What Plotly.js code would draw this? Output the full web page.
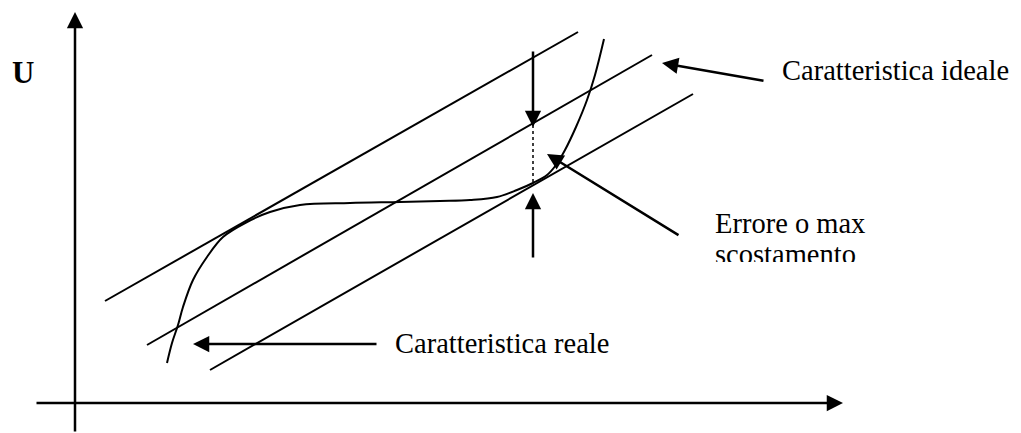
<!DOCTYPE html>
<html>
<head>
<meta charset="utf-8">
<script src="https://cdn.plot.ly/plotly-3.0.1.min.js"></script>
<style>html,body{margin:0;padding:0;background:#fff;}#chart{width:1021px;height:433px;}</style>
</head>
<body>
<div id="chart"></div>
<script>
// Real (S-shaped) characteristic, pixel-space diagram coordinates
const realX = [167,172,178,183,193,207,223,247,270,300,350,400,440,470,497,517,533,547,556,565,576,587,595,604];
const realY = [363,343,325,307,280,257,237,222,212,205,203,202,201,200,197,190,183,175,165,150,127,100,75,39];

// Three parallel ideal lines (upper bound, ideal, lower bound)
const bandX0 = [105,147,210];
const bandY0 = [301,345,370];
const bandX1 = [578,652,693];
const bandY1 = [32,55,94];

// Error segment (dotted)
const errX = [533,533];
const errY = [125,183];

// Axes (tail -> tip)
const axesTail = [[75,433],[35,403]];
const axesTip  = [[75,12],[843,403]];

// Pointer arrows (tail -> tip)
const ptrTail = [[533,50],[533,259],[765,81],[680,236],[378,344]];
const ptrTip  = [[533,127],[533,193],[662,63],[547,154],[193,344]];

// Labels
const labelU = 'U';
const labelIdeal = 'Caratteristica ideale';
const labelErr1 = 'Errore o max';
const labelErr2 = 'scostamento';
const labelReal = 'Caratteristica reale';
const labelTop = 'g';

const FONT = 'Liberation Serif';

const traces = [];
for (let i = 0; i < bandX0.length; i++) {
  traces.push({x:[bandX0[i],bandX1[i]], y:[bandY0[i],bandY1[i]], mode:'lines',
    line:{color:'#000', width:2}, hoverinfo:'skip', xaxis:'x', yaxis:'y'});
}
traces.push({x:realX, y:realY, mode:'lines', line:{color:'#000', width:2, shape:'spline', smoothing:1}, hoverinfo:'skip'});
traces.push({x:errX, y:errY, mode:'lines', line:{color:'#000', width:1.5, dash:'dot'}, hoverinfo:'skip'});
// clipped second text line (cut at the bottom edge of subplot 2)
traces.push({x:[715], y:[257], mode:'text', text:[labelErr2], textposition:'middle right',
  textfont:{family:FONT, size:28.5, color:'#000'}, cliponaxis:true, hoverinfo:'skip', xaxis:'x2', yaxis:'y2'});

const ann = [];
function arrow(t, h, w, size){
  ann.push({x:h[0], y:h[1], ax:t[0], ay:t[1], xref:'x', yref:'y', axref:'x', ayref:'y',
    text:'', showarrow:true, arrowhead:2, arrowsize:size, arrowwidth:w, arrowcolor:'#000', standoff:0, startstandoff:0});
}
for (let i=0;i<axesTail.length;i++) arrow(axesTail[i], axesTip[i], 2.5, 1.3);
for (let i=0;i<ptrTail.length;i++) arrow(ptrTail[i], ptrTip[i], 2.5, 1.3);

function label(txt, x, y, size, bold){
  ann.push({x:x, y:y, xref:'x', yref:'y', text: bold ? '<b>'+txt+'</b>' : txt, showarrow:false,
    xanchor:'left', yanchor:'middle', font:{family:FONT, size:size, color:'#000'}});
}
label(labelU, 10, 72, 31, true);
label(labelIdeal, 780, 70, 28.5, false);
label(labelErr1, 713, 223, 28.5, false);
label(labelReal, 393, 343, 28.5, false);
label(labelTop, 612, -9, 28.5, false);

const layout = {
  width:1021, height:433, margin:{l:0,r:0,t:0,b:0},
  paper_bgcolor:'#fff', plot_bgcolor:'rgba(0,0,0,0)', showlegend:false,
  font:{family:FONT},
  xaxis:{range:[0,1021], visible:false, fixedrange:true, domain:[0,1]},
  yaxis:{range:[433,0], visible:false, fixedrange:true, domain:[0,1]},
  xaxis2:{range:[0,1021], visible:false, fixedrange:true, domain:[0,1], anchor:'y2'},
  yaxis2:{range:[262,0], visible:false, fixedrange:true, domain:[1-262/433,1], anchor:'x2'},
  annotations: ann
};
Plotly.newPlot('chart', traces, layout, {staticPlot:true, displayModeBar:false});
</script>
</body>
</html>
